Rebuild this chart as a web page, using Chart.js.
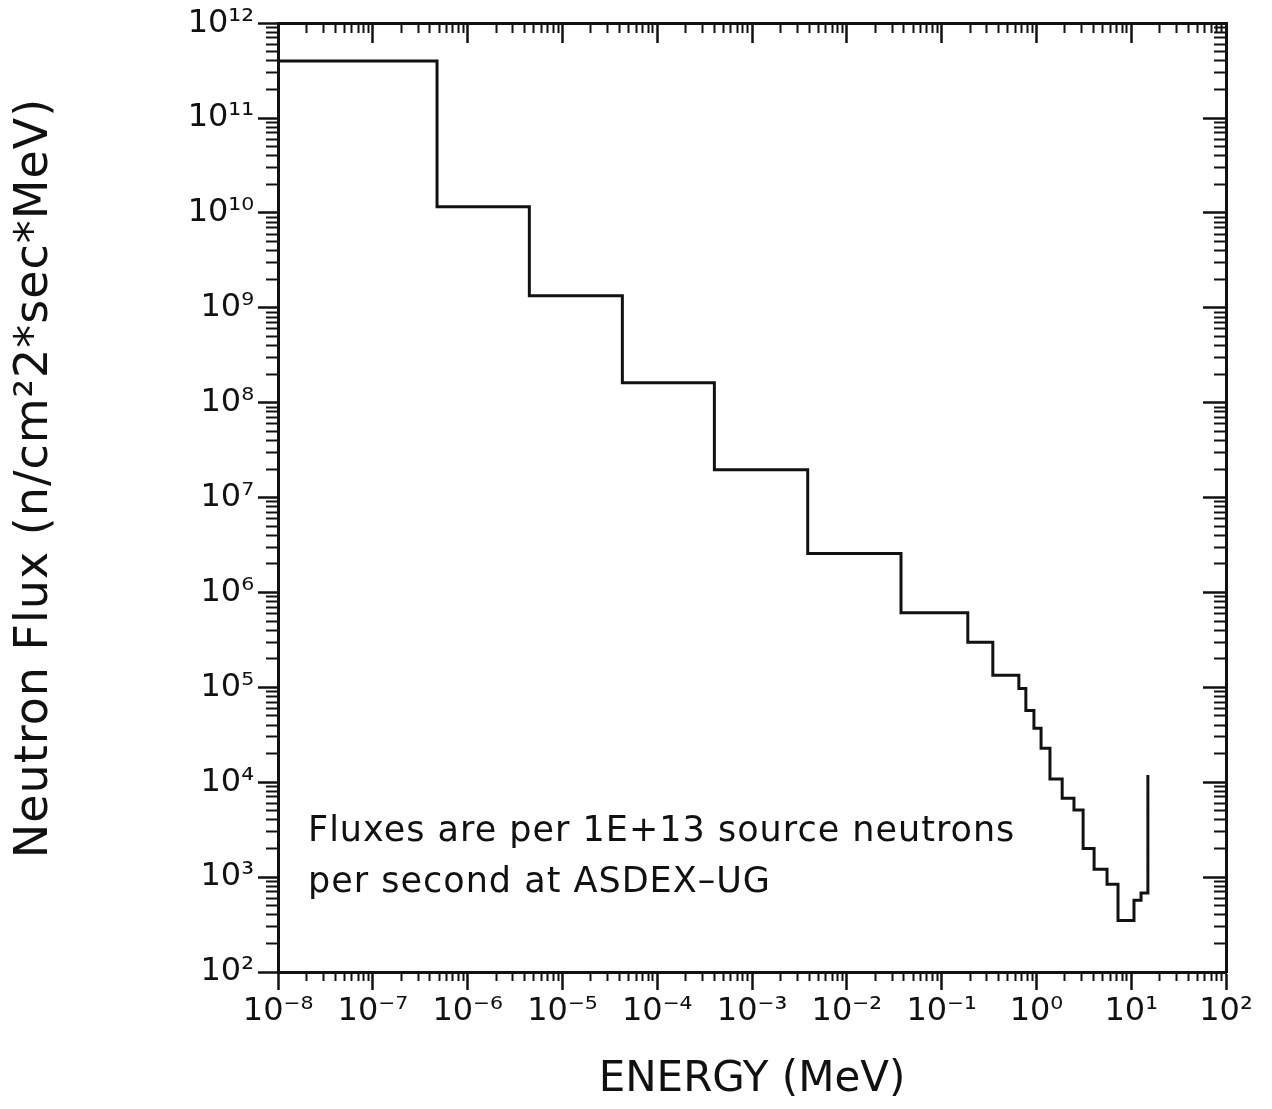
<!DOCTYPE html>
<html>
<head>
<meta charset="utf-8">
<script src="https://cdn.jsdelivr.net/npm/chart.js@4/dist/chart.umd.min.js"></script>
<style>
  html, body { margin: 0; padding: 0; background: #ffffff; }
  #wrap { width: 1272px; height: 1109px; position: relative; }
  canvas { display: block; }
</style>
</head>
<body>
<div id="wrap"><canvas id="c" width="1272" height="1109"></canvas></div>
<script>
// ---- Data (step histogram: value holds from its edge to the next edge) ----
const energyEdges = [1e-8, 4.76e-7, 4.48e-6, 4.29e-5, 4.01e-4, 3.87e-3, 0.0373, 0.189, 0.347, 0.653, 0.774,
                     0.942, 1.12, 1.39, 1.87, 2.49, 3.11, 4.06, 5.56, 7.26, 10.7, 12.7, 15.0];
const fluxValues  = [4.0e11, 1.16e10, 1.34e9, 1.62e8, 1.97e7, 2.57e6, 6.1e5, 2.98e5, 1.34e5, 9.7e4, 5.7e4,
                     3.7e4, 2.28e4, 1.08e4, 6.8e3, 5.1e3, 2.0e3, 1.21e3, 8.4e2, 3.5e2, 5.7e2, 6.8e2, 1.19e4];

// ---- Axes / tick labels ----
const xMajorTicks = [1e-8, 1e-7, 1e-6, 1e-5, 1e-4, 1e-3, 1e-2, 1e-1, 1e0, 1e1, 1e2];
const xTickLabels = ['10⁻⁸', '10⁻⁷', '10⁻⁶', '10⁻⁵', '10⁻⁴', '10⁻³', '10⁻²', '10⁻¹', '10⁰', '10¹', '10²'];
const yMajorTicks = [1e2, 1e3, 1e4, 1e5, 1e6, 1e7, 1e8, 1e9, 1e10, 1e11, 1e12];
const yTickLabels = ['10²', '10³', '10⁴', '10⁵', '10⁶', '10⁷', '10⁸', '10⁹', '10¹⁰', '10¹¹', '10¹²'];
const minorMultipliers = [2, 3, 4, 5, 6, 7, 8, 9];

const xTitle = 'ENERGY (MeV)';
const yTitle = 'Neutron Flux (n/cm²2*sec*MeV)';
const noteLines = ['Fluxes are per 1E+13 source neutrons', 'per second at ASDEX–UG'];

function minorTicks(majors) {
  const out = [];
  for (let i = 0; i < majors.length - 1; i++) {
    for (const m of minorMultipliers) out.push(majors[i] * m);
  }
  return out;
}
const xMinorTicks = minorTicks(xMajorTicks);
const yMinorTicks = minorTicks(yMajorTicks);

const INK = '#111111';
const FONT = '"DejaVu Sans", "Liberation Sans", sans-serif';

const points = energyEdges.map((e, i) => ({ x: e, y: fluxValues[i] }));

function tickAxis(axis, pos, ticks, len, width, border) {
  return {
    axis: axis,
    type: 'logarithmic',
    position: pos,
    min: axis === 'x' ? 1e-8 : 1e2,
    max: axis === 'x' ? 1e2 : 1e12,
    afterBuildTicks: s => { s.ticks = ticks.map(v => ({ value: v })); },
    ticks: { display: false, autoSkip: false },
    grid: { display: true, drawOnChartArea: false, drawTicks: true, tickLength: len, tickWidth: width, tickColor: INK },
    border: { display: border, width: 3, color: INK },
    afterFit: s => { if (axis === 'x') s.height = 0; else s.width = 0; }
  };
}

const textPlugin = {
  id: 'texts',
  afterDraw(chart) {
    const ctx = chart.ctx;
    ctx.save();
    ctx.fillStyle = INK;
    // y-axis title (rotated)
    ctx.save();
    ctx.translate(47, 478);
    ctx.rotate(-Math.PI / 2);
    ctx.font = '46px ' + FONT;
    if ('letterSpacing' in ctx) ctx.letterSpacing = '1px';
    ctx.textAlign = 'center';
    ctx.textBaseline = 'alphabetic';
    ctx.fillText(yTitle, 0, 0);
    ctx.restore();
    // annotation
    ctx.font = '35px ' + FONT;
    if ('letterSpacing' in ctx) ctx.letterSpacing = '1px';
    ctx.textAlign = 'left';
    ctx.textBaseline = 'alphabetic';
    ctx.fillText(noteLines[0], 308, 841);
    ctx.fillText(noteLines[1], 308, 892);
    ctx.restore();
  }
};

new Chart(document.getElementById('c'), {
  type: 'line',
  data: {
    datasets: [{
      data: points,
      stepped: 'before',
      borderColor: INK,
      borderWidth: 3,
      pointRadius: 0,
      fill: false,
      tension: 0
    }]
  },
  options: {
    responsive: false,
    devicePixelRatio: 1,
    animation: false,
    layout: { padding: { top: 22, right: 46, left: 0, bottom: 0 } },
    plugins: { legend: { display: false }, tooltip: { enabled: false } },
    scales: {
      x: {
        type: 'logarithmic',
        position: 'bottom',
        min: 1e-8,
        max: 1e2,
        afterBuildTicks: s => { s.ticks = xMajorTicks.map(v => ({ value: v })); },
        ticks: {
          autoSkip: false, maxRotation: 0, minRotation: 0, padding: 2,
          color: INK, font: { family: FONT, size: 32 },
          callback: (v, i) => xTickLabels[i]
        },
        grid: { drawOnChartArea: false, drawTicks: true, tickLength: 18, tickWidth: 2.5, tickColor: INK },
        border: { display: true, width: 3, color: INK },
        title: { display: true, text: xTitle, color: INK, font: { family: FONT, size: 42 }, padding: { top: 0, bottom: 4 } },
        afterFit: s => { s.height = 137; }
      },
      y: {
        type: 'logarithmic',
        position: 'left',
        min: 1e2,
        max: 1e12,
        afterBuildTicks: s => { s.ticks = yMajorTicks.map(v => ({ value: v })); },
        ticks: {
          autoSkip: false, padding: 4,
          color: INK, font: { family: FONT, size: 32 },
          callback: (v, i) => yTickLabels[i]
        },
        grid: { drawOnChartArea: false, drawTicks: true, tickLength: 20, tickWidth: 2.5, tickColor: INK },
        border: { display: true, width: 3, color: INK },
        afterFit: s => { s.width = 278; }
      },
      xMinorB: tickAxis('x', { y: 1e2 }, xMinorTicks, 9, 2, false),
      xTopMajor: tickAxis('x', { y: 1e12 }, xMajorTicks, 18, 2.5, true),
      xTopMinor: tickAxis('x', { y: 1e12 }, xMinorTicks, 10, 2, false),
      yLeftMinor: tickAxis('y', { x: 1e-8 }, yMinorTicks, 12, 2, false),
      yRightMajor: tickAxis('y', { x: 1e2 }, yMajorTicks, 22, 2.5, true),
      yRightMinor: tickAxis('y', { x: 1e2 }, yMinorTicks, 12, 2, false)
    }
  },
  plugins: [textPlugin]
});
</script>
</body>
</html>
